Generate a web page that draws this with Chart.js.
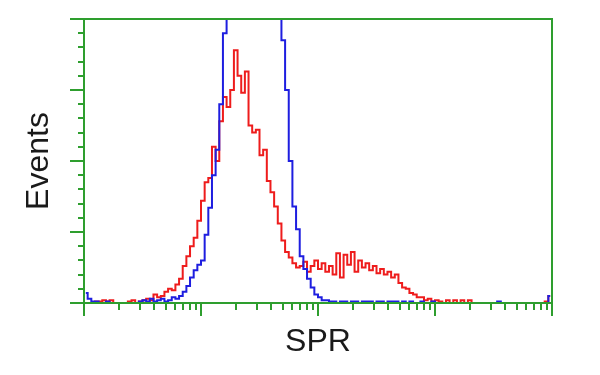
<!DOCTYPE html>
<html>
<head>
<meta charset="utf-8">
<script src="https://cdn.jsdelivr.net/npm/chart.js@4.4.1/dist/chart.umd.min.js"></script>
<style>
    html, body { margin: 0; padding: 0; background: #fff; }
    #wrap { width: 600px; height: 375px; }
</style>
</head>
<body>
<div id="wrap"><canvas id="histChart"></canvas></div>
<script>
// 128 channels over 4 log decades, counts per channel
const CHANNELS = 128;
const DECADES = 4;

const blueCounts = [
    7, 3, 1, 1, 0, 0, 1, 0, 0, 0,
    0, 0, 0, 0, 0, 1, 2, 1, 3, 1,
    2, 3, 1, 2, 4, 3, 5, 8, 12, 18,
    23, 27, 30, 48, 67, 90, 108, 140, 190, 210,
    240, 270, 300, 320, 330, 335, 330, 320, 300, 280,
    260, 240, 222, 205, 185, 150, 100, 68, 52, 33,
    24, 17, 11, 6, 4, 2, 2, 1, 1, 0,
    1, 1, 0, 1, 1, 0, 1, 1, 1, 0,
    1, 1, 0, 1, 1, 1, 0, 1, 0, 1,
    0, 0, 1, 0, 0, 1, 0, 0, 0, 0,
    0, 0, 0, 0, 0, 0, 0, 0, 0, 0,
    0, 0, 0, 1, 0, 0, 0, 0, 0, 0,
    0, 0, 0, 0, 0, 0, 0, 5
];

const redCounts = [
    0, 0, 0, 1, 1, 2, 1, 2, 0, 0,
    0, 0, 1, 2, 0, 1, 2, 3, 2, 6,
    4, 5, 8, 10, 9, 13, 17, 26, 33, 40,
    46, 58, 72, 85, 88, 110, 100, 128, 145, 138,
    150, 178, 160, 148, 163, 125, 120, 122, 104, 108,
    86, 78, 68, 56, 44, 36, 32, 28, 25, 26,
    29, 22, 26, 30, 24, 28, 22, 26, 20, 35,
    18, 34, 27, 36, 22, 30, 25, 28, 23, 26,
    21, 24, 20, 22, 18, 20, 14, 11, 10, 7,
    6, 4, 4, 2, 3, 1, 2, 1, 0, 2,
    0, 2, 0, 2, 0, 2, 0, 0, 0, 0,
    0, 0, 0, 0, 0, 0, 0, 0, 0, 0,
    0, 0, 0, 0, 0, 0, 1, 5
];

const yMax = 200;
const yMajorStep = 50;
const yMinorStep = 10;
const xDecadeTicks = [1, 10, 100, 1000, 10000];
const xMinorFactors = [2, 3, 4, 5, 6, 7, 8, 9];

const AXIS_GREEN = '#2e9e2e';

function toPoints(counts) {
    return counts.map((v, i) => ({ x: i + 0.5, y: v }));
}

function channelOf(value) {
    return CHANNELS * Math.log10(value) / DECADES;
}

// green box with flow-style ticks, drawn through the scales
const frameTicks = {
    id: 'frameTicks',
    afterDatasetsDraw(chart) {
        const { ctx, chartArea: a, scales: { x, y } } = chart;
        ctx.save();
        ctx.strokeStyle = AXIS_GREEN;
        ctx.lineWidth = 2;
        ctx.strokeRect(a.left, a.top, a.right - a.left, a.bottom - a.top);

        ctx.beginPath();
        for (let v = 0; v <= yMax; v += yMinorStep) {
            const py = Math.round(y.getPixelForValue(v));
            const len = v % yMajorStep === 0 ? 14 : 6;
            ctx.moveTo(a.left - len, py);
            ctx.lineTo(a.left, py);
        }
        xDecadeTicks.forEach((d, i) => {
            const px = Math.round(x.getPixelForValue(channelOf(d)));
            ctx.moveTo(px, a.bottom);
            ctx.lineTo(px, a.bottom + 13);
            if (i === xDecadeTicks.length - 1) return;
            xMinorFactors.forEach(f => {
                const mx = Math.round(x.getPixelForValue(channelOf(d * f)));
                ctx.moveTo(mx, a.bottom);
                ctx.lineTo(mx, a.bottom + 7);
            });
        });
        ctx.stroke();
        ctx.restore();
    }
};

function renderHistogram() {
    const ctx = document.getElementById('histChart').getContext('2d');
    const titleFont = { family: "'Liberation Sans', Arial, sans-serif", size: 32 };

    new Chart(ctx, {
        type: 'line',
        data: {
            datasets: [
                { data: toPoints(blueCounts), borderColor: '#1e1ee0', borderWidth: 2, stepped: 'middle', pointRadius: 0 },
                { data: toPoints(redCounts), borderColor: '#ee1c1c', borderWidth: 2, stepped: 'middle', pointRadius: 0 }
            ]
        },
        options: {
            responsive: true,
            maintainAspectRatio: false,
            animation: false,
            layout: { padding: { top: 19, right: 48, left: 0, bottom: 0 } },
            scales: {
                x: {
                    type: 'linear', min: 0, max: CHANNELS,
                    grid: { display: false }, border: { display: false }, ticks: { display: false },
                    title: { display: true, text: 'SPR', color: '#1a1a1a', font: titleFont, padding: { top: 0, bottom: 14 } },
                    afterFit(s) { s.height = 72; }
                },
                y: {
                    min: 0, max: yMax,
                    grid: { display: false }, border: { display: false }, ticks: { display: false },
                    title: { display: true, text: 'Events', color: '#1a1a1a', font: titleFont, padding: { top: 20, bottom: 0 } },
                    afterFit(s) { s.width = 84; }
                }
            },
            plugins: { legend: { display: false }, tooltip: { enabled: false } }
        },
        plugins: [frameTicks]
    });
}

document.addEventListener('DOMContentLoaded', renderHistogram);
</script>
</body>
</html>
